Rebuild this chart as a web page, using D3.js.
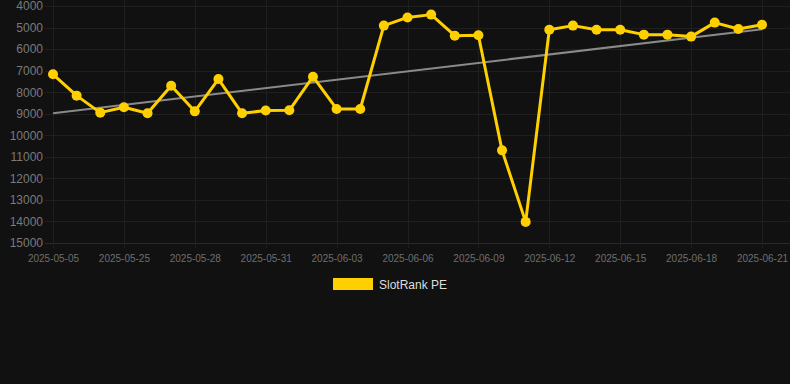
<!DOCTYPE html>
<html>
<head>
  <meta charset="utf-8">
  <title>SlotRank PE</title>
  <script src="https://cdn.jsdelivr.net/npm/d3@7"></script>
  <style>
    html, body {
      margin: 0;
      padding: 0;
      background: #111111;
    }
    svg {
      display: block;
      font-family: "Liberation Sans", Arial, sans-serif;
    }
    .grid line {
      stroke: #1f1f1f;
      stroke-width: 1;
    }
    .yaxis text {
      fill: #7a7a7a;
      font-size: 12px;
    }
    .xaxis text {
      fill: #6e6e6e;
      font-size: 10px;
    }
    .legend text {
      fill: #dddddd;
      font-size: 12px;
    }
  </style>
</head>
<body>
  <script>
    // Dates on the x axis (one point per date)
    var dates = ["2025-05-05", "2025-05-23", "2025-05-24", "2025-05-25", "2025-05-26",
                 "2025-05-27", "2025-05-28", "2025-05-29", "2025-05-30", "2025-05-31",
                 "2025-06-01", "2025-06-02", "2025-06-03", "2025-06-04", "2025-06-05",
                 "2025-06-06", "2025-06-07", "2025-06-08", "2025-06-09", "2025-06-10",
                 "2025-06-11", "2025-06-12", "2025-06-13", "2025-06-14", "2025-06-15",
                 "2025-06-16", "2025-06-17", "2025-06-18", "2025-06-19", "2025-06-20",
                 "2025-06-21"];

    // Rank values
    var ranks = [7170, 8160, 8950, 8700, 8980, 7700, 8890, 7390, 8980, 8850,
                 8840, 7280, 8780, 8780, 4910, 4530, 4400, 5380, 5360, 10700,
                 14020, 5100, 4910, 5100, 5100, 5330, 5330, 5420, 4770, 5070,
                 4870];

    // Trend line, value at first and last date
    var trend = [8980, 5080];

    var xTicks = ["2025-05-05", "2025-05-25", "2025-05-28", "2025-05-31", "2025-06-03",
                  "2025-06-06", "2025-06-09", "2025-06-12", "2025-06-15", "2025-06-18",
                  "2025-06-21"];
    var yTicks = [4000, 5000, 6000, 7000, 8000, 9000, 10000, 11000, 12000, 13000, 14000, 15000];

    var seriesName = "SlotRank PE";
    var yellow = "#ffd000";

    var width = 790;
    var height = 384;
    var plotLeft = 53, plotRight = 762, plotTop = 6, plotBottom = 243;

    var svg = d3.select("body").append("svg")
                .attr("width", width)
                .attr("height", height);

    var xScale = d3.scalePoint()
                   .domain(dates)
                   .range([plotLeft, plotRight]);

    var yScale = d3.scaleLinear()
                   .domain([4000, 15000])
                   .range([plotTop, plotBottom]);

    // Grid lines
    var grid = svg.append("g").attr("class", "grid");
    grid.selectAll(".h")
        .data(yTicks)
        .enter()
        .append("line")
        .attr("x1", plotLeft - 8)
        .attr("x2", width)
        .attr("y1", function(d) { return Math.round(yScale(d)) + 0.5; })
        .attr("y2", function(d) { return Math.round(yScale(d)) + 0.5; })
        .style("stroke", function(d) { return d == 15000 ? "#2a2a2a" : null; });
    grid.selectAll(".v")
        .data(xTicks)
        .enter()
        .append("line")
        .attr("x1", function(d) { return Math.round(xScale(d)) + 0.5; })
        .attr("x2", function(d) { return Math.round(xScale(d)) + 0.5; })
        .attr("y1", 0)
        .attr("y2", plotBottom + 5);

    // Axes, only the labels are shown
    var yAxis = d3.axisLeft(yScale).tickValues(yTicks).tickSize(0).tickPadding(10)
                  .tickFormat(function(d) { return d; });
    svg.append("g")
       .attr("class", "yaxis")
       .attr("transform", "translate(" + plotLeft + ",0)")
       .call(yAxis)
       .call(function(g) { g.select(".domain").remove(); });

    var xAxis = d3.axisBottom(xScale).tickValues(xTicks).tickSize(0).tickPadding(12);
    svg.append("g")
       .attr("class", "xaxis")
       .attr("transform", "translate(0," + plotBottom + ")")
       .call(xAxis)
       .call(function(g) { g.select(".domain").remove(); });

    // Trend line
    svg.append("line")
       .attr("x1", xScale(dates[0]))
       .attr("y1", yScale(trend[0]))
       .attr("x2", xScale(dates[dates.length - 1]))
       .attr("y2", yScale(trend[1]))
       .attr("stroke", "#8a8a8a")
       .attr("stroke-width", 2);

    // Series line and points
    var line = d3.line()
                 .x(function(d, i) { return xScale(dates[i]); })
                 .y(function(d) { return yScale(d); });

    svg.append("path")
       .datum(ranks)
       .attr("d", line)
       .attr("fill", "none")
       .attr("stroke", yellow)
       .attr("stroke-width", 3)
       .attr("stroke-linejoin", "round");

    svg.selectAll(".dot")
       .data(ranks)
       .enter()
       .append("circle")
       .attr("cx", function(d, i) { return xScale(dates[i]); })
       .attr("cy", function(d) { return yScale(d); })
       .attr("r", 5)
       .attr("fill", yellow);

    // Legend
    var legend = svg.append("g").attr("class", "legend");
    legend.append("rect")
          .attr("x", 333)
          .attr("y", 278)
          .attr("width", 40)
          .attr("height", 12)
          .attr("fill", yellow);
    legend.append("text")
          .attr("x", 379)
          .attr("y", 289)
          .text(seriesName);
  </script>
</body>
</html>
